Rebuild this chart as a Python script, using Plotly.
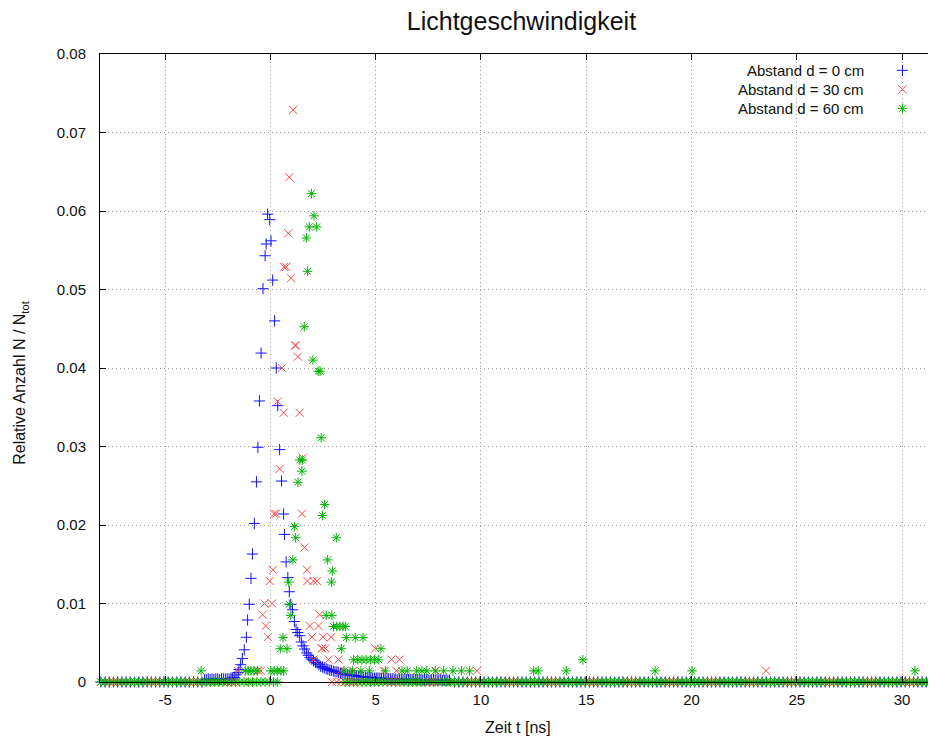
import numpy as np
import plotly.graph_objects as go

# ---------------- data ----------------
# quantum of the 30 cm / 60 cm histograms (one count)
q_red = 0.001429
q_green = 0.001414

# d = 0 cm  (time in ns, relative count)
blue_t = [-3.13, -3.04, -2.95, -2.86, -2.77, -2.68, -2.59, -2.50, -2.41, -2.32, -2.23, -2.14,
          -2.05, -1.96, -1.87, -1.79, -1.71, -1.63, -1.53, -1.49, -1.41, -1.33, -1.24, -1.14,
          -1.08, -1.00, -0.92, -0.85, -0.76, -0.66, -0.59, -0.52, -0.44, -0.35, -0.25, -0.20,
          -0.13, -0.03, 0.03, 0.11, 0.20, 0.28, 0.35, 0.44, 0.53, 0.63, 0.67, 0.75, 0.83, 0.90,
          0.97, 1.05, 1.14, 1.22, 1.30, 1.39, 1.47, 1.55, 1.63, 1.72, 1.80, 1.88, 1.97, 2.05,
          2.14, 2.22, 2.31, 2.39, 2.48, 2.56, 2.65, 2.73, 2.82, 2.90, 2.99, 3.07, 3.16, 3.24,
          3.33, 3.41, 3.50, 3.58, 3.67, 3.75, 3.84, 3.92, 4.01, 4.09, 4.18, 4.26, 4.35, 4.43,
          4.52, 4.60, 4.69, 4.77, 4.86, 4.94, 5.03, 5.11, 5.20, 5.28, 5.37, 5.45, 5.54, 5.62,
          5.71, 5.79, 5.88, 5.96, 6.05, 6.13, 6.22, 6.30, 6.39, 6.47, 6.56, 6.64, 6.73, 6.81,
          6.90, 6.98, 7.07, 7.15, 7.24, 7.32, 7.41, 7.49, 7.58, 7.66, 7.75, 7.83, 7.92, 8.00,
          8.09, 8.17, 8.26, 8.34, 8.43, 8.51]
blue_v = [0.0003, 0.0003, 0.0004, 0.0003, 0.0004, 0.0003, 0.0004, 0.0004, 0.0003, 0.0004, 0.0004, 0.0004,
          0.0004, 0.0004, 0.0005, 0.0005, 0.0006, 0.0009, 0.0012, 0.0016, 0.0022, 0.0030, 0.0041, 0.0057,
          0.0079, 0.0099, 0.0132, 0.0163, 0.0202, 0.0255, 0.0299, 0.0358, 0.0419, 0.0501, 0.0543, 0.0558,
          0.0596, 0.0589, 0.0562, 0.0512, 0.0460, 0.0400, 0.0352, 0.0296, 0.0256, 0.0214, 0.0188, 0.0153, 0.0133, 0.0115,
          0.0099, 0.0092, 0.0077, 0.0067, 0.0063, 0.0059, 0.0051, 0.0046, 0.0042, 0.0037, 0.0034, 0.0031, 0.0029, 0.0027,
          0.0025, 0.0024, 0.0022, 0.0020, 0.0019, 0.0018, 0.0017, 0.0016, 0.0015, 0.0015, 0.0014, 0.0013, 0.0013, 0.0012,
          0.0011, 0.0011, 0.0010, 0.0010, 0.0009, 0.0009, 0.0009, 0.0008, 0.0008, 0.0008, 0.0007, 0.0007, 0.0007, 0.0006,
          0.0006, 0.0006, 0.0006, 0.0006, 0.0005, 0.0005, 0.0005, 0.0005, 0.0005, 0.0004, 0.0005, 0.0004, 0.0004, 0.0004,
          0.0004, 0.0004, 0.0003, 0.0004, 0.0003, 0.0004, 0.0003, 0.0003, 0.0004, 0.0003, 0.0003, 0.0003, 0.0003, 0.0004,
          0.0003, 0.0003, 0.0003, 0.0003, 0.0002, 0.0003, 0.0003, 0.0003, 0.0002, 0.0003, 0.0003, 0.0002, 0.0003, 0.0002,
          0.0003, 0.0002, 0.0002, 0.0003, 0.0002, 0.0002]

# d = 30 cm  (time in ns, counts in units of q_red)
red_t = [-1.54, -0.95, -0.57, -0.45, -0.37, -0.28, -0.22, -0.12, -0.03, 0.08, 0.12, 0.18, 0.27,
         0.35, 0.44, 0.55, 0.63, 0.64, 0.75, 0.85, 0.90, 0.98, 1.08, 1.17, 1.21, 1.31, 1.39,
         1.50, 1.53, 1.63, 1.74, 1.76, 1.87, 1.97, 2.05, 2.05, 2.21, 2.29, 2.34, 2.44, 2.46,
         2.50, 2.61, 2.77, 2.89, 2.92, 3.24, 3.32, 3.50, 3.95, 4.98, 5.38, 5.75, 5.98, 6.14,
         7.85, 9.81, 23.54]
red_n = [1, 0, 1, 1, 6, 7, 5, 4, 9, 7, 10, 15, 15,
         25, 19, 28, 24, 37, 37, 40, 45, 36, 51, 30, 30, 29, 24,
         15, 20, 12, 10, 9, 5, 4, 9, 2, 9, 5, 6, 3, 3,
         4, 3, 2, 4, 0, 2, 1, 1, 1, 3, 1, 2, 1, 2,
         1, 1, 1]

# d = 60 cm  (time in ns, counts in units of q_green)
green_t = [-3.29, -1.19, -1.05, -0.92, -0.78, -0.62, 0.02, 0.18, 0.33, 0.50, 0.63, 0.47, 0.79,
           0.60, 0.87, 0.90, 0.97, 1.07, 1.15, 1.20, 1.31, 1.40, 1.52, 1.50, 1.61, 1.71, 1.77,
           1.85, 1.95, 2.02, 2.07, 2.20, 2.27, 2.36, 2.41, 2.48, 2.58, 2.65, 2.72, 2.90, 2.92,
           2.94, 3.00, 3.15, 3.30, 3.45, 3.56, 3.13, 3.37, 3.61, 4.03, 4.40, 3.95, 4.15, 4.35,
           4.55, 4.75, 4.95, 5.15, 3.50, 3.90, 4.30, 4.70, 5.25, 5.46, 6.25, 6.50, 6.95, 7.20,
           7.43, 7.83, 8.23, 8.67, 9.07, 9.46, 12.50, 12.72, 14.05, 14.84, 18.27, 20.03, 30.61]
green_n = [1, 1, 1, 1, 1, 1, 1, 1, 1, 1, 1, 3, 3,
           4, 9, 7, 6, 11, 14, 13, 18, 20, 20, 19, 32, 40, 37,
           41, 44, 29, 42, 41, 28, 28, 22, 15, 16, 6, 11, 9, 6,
           10, 5, 5, 5, 5, 5, 13, 3, 4, 4, 4, 2, 2, 2,
           2, 2, 2, 2, 1, 1, 1, 1, 3, 1, 1, 1, 1, 1,
           1, 1, 1, 1, 1, 1, 1, 1, 1, 2, 1, 1, 1]

# empty histogram bins (value 0) outside the windows listed here
t_first, t_last, t_step = -8.05, 31.6, 0.2
blue_nonzero_window = (-3.2, 8.6)
red_nonzero_window = (-1.6, 3.0)
green_nonzero_window = (0.55, 3.4)

series_names = ["Abstand d = 0 cm", "Abstand d = 30 cm", "Abstand d = 60 cm"]
x_ticks = [-5, 0, 5, 10, 15, 20, 25, 30]
x_tick_labels = ["-5", "0", "5", "10", "15", "20", "25", "30"]
y_ticks = [0, 0.01, 0.02, 0.03, 0.04, 0.05, 0.06, 0.07, 0.08]
y_tick_labels = ["0", "0.01", "0.02", "0.03", "0.04", "0.05", "0.06", "0.07", "0.08"]

# ---------------- build ----------------
grid = np.round(np.arange(t_first, t_last + 1e-9, t_step), 3)


def zeros_outside(win):
    g = grid[(grid < win[0]) | (grid > win[1])]
    return list(g), [0.0] * len(g)


bz_t, bz_v = zeros_outside(blue_nonzero_window)
rz_t, rz_v = zeros_outside(red_nonzero_window)
gz_t, gz_v = zeros_outside(green_nonzero_window)

red_v = [n * q_red for n in red_n]
green_v = [n * q_green for n in green_n]

BLUE = "#1010ff"
RED = "#ff4848"
GREEN = "#00b400"
FONT = "Liberation Sans, Arial, sans-serif"
MS = 8

fig = go.Figure()


def add_series(t, v, color, symbol):
    fig.add_trace(go.Scatter(
        x=t, y=v, mode="markers", showlegend=False, cliponaxis=False,
        marker=dict(symbol=symbol, size=MS, color=color,
                    line=dict(color=color, width=1)),
        xaxis="x", yaxis="y"))


add_series(bz_t + blue_t, bz_v + blue_v, BLUE, "cross-thin-open")
add_series(rz_t + red_t, rz_v + red_v, RED, "x-thin-open")
add_series(gz_t + green_t, gz_v + green_v, GREEN, "asterisk-open")

# legend (text left of the symbol, as in gnuplot)
leg_y = [0.9740, 0.9437, 0.9135]
leg_sym = ["cross-thin-open", "x-thin-open", "asterisk-open"]
leg_col = [BLUE, RED, GREEN]
for name, yy, sym, col in zip(series_names, leg_y, leg_sym, leg_col):
    fig.add_trace(go.Scatter(
        x=[0.9599], y=[yy], mode="markers", showlegend=False, cliponaxis=False,
        marker=dict(symbol=sym, size=MS, color=col, line=dict(color=col, width=1)),
        xaxis="x2", yaxis="y2"))
    fig.add_annotation(x=0.9163, y=yy, xref="paper", yref="paper", text=name,
                       showarrow=False, xanchor="right", yanchor="middle",
                       font=dict(family=FONT, size=15, color="#111"))

fig.add_annotation(x=0.5, y=-0.072, xref="paper", yref="paper", text="Zeit t [ns]",
                   showarrow=False, xanchor="center", yanchor="middle",
                   font=dict(family=FONT, size=16, color="#111"))
fig.add_annotation(x=-0.0945, y=0.478, xref="paper", yref="paper",
                   text="Relative Anzahl N / N<sub>tot</sub>", textangle=-90,
                   showarrow=False, xanchor="center", yanchor="middle",
                   font=dict(family=FONT, size=16, color="#111"))

axis_common = dict(
    showline=True, linecolor="black", linewidth=1,
    ticks="inside", ticklen=6, tickcolor="black", tickwidth=1,
    showgrid=True, gridcolor="#a0a0a0", gridwidth=1, griddash="1px,3px",
    zeroline=False, tickfont=dict(family=FONT, size=15, color="#111"),
)

# the page body adds an 8 px offset, so the figure is 8 px smaller
fig.update_layout(
    width=928, height=732,
    margin=dict(l=92, r=0, t=46, b=58),
    paper_bgcolor="white", plot_bgcolor="white",
    title=dict(text="Lichtgeschwindigkeit", x=0.5533, xanchor="center",
               y=0.982, yanchor="middle",
               font=dict(family=FONT, size=25, color="#111")),
    xaxis=dict(range=[-8.09, 31.61], tickvals=x_ticks, ticktext=x_tick_labels,
               mirror="ticks", ticklabelstandoff=4, **axis_common),
    yaxis=dict(range=[0, 0.08], tickvals=y_ticks, ticktext=y_tick_labels,
               mirror=False, ticklabelstandoff=10, **axis_common),
    xaxis2=dict(overlaying="x", range=[0, 1], visible=False, anchor="y2"),
    yaxis2=dict(overlaying="y", range=[0, 1], visible=False, anchor="x2"),
    showlegend=False,
)

fig.write_html("out.html")
